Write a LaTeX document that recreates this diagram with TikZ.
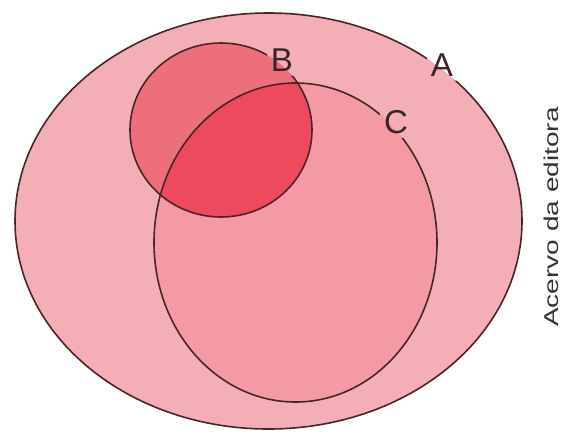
\documentclass[tikz,border=0pt]{standalone}
\usepackage{fontspec}
\setmainfont{Liberation Sans}
\usepackage{graphicx}
\definecolor{colA}{HTML}{F4AEB5}
\definecolor{colC}{HTML}{F49AA4}
\definecolor{colB}{HTML}{EE6F7C}
\definecolor{colBC}{HTML}{EE4A5E}
\definecolor{edgecol}{HTML}{4A2528}
\definecolor{labelcol}{HTML}{3A2628}
\definecolor{creditcol}{HTML}{333333}
\begin{document}
\begin{tikzpicture}[x=1pt,y=-1pt,
  outline/.style={draw=edgecol, line width=1.6pt},
  lbl/.style={font=\fontsize{33}{33}\selectfont, text=labelcol, inner sep=4pt},
]
\useasboundingbox (0,0) rectangle (565,440);
\fill[white] (0,0) rectangle (565,440);
% fills
\fill[colA] (268.5,221) ellipse [x radius=253.5, y radius=208];
\fill[colC] (295.5,242.5) ellipse [x radius=141.5, y radius=159.5];
\fill[colB] (221,130) ellipse [x radius=91, y radius=87];
\begin{scope}
  \clip (221,130) ellipse [x radius=91, y radius=87];
  \fill[colBC] (295.5,242.5) ellipse [x radius=141.5, y radius=159.5];
\end{scope}
% labels
\node[lbl] (labB) at (282,60) {B};
\node[lbl] (labA) at (442,65) {A};
\node[lbl] (labC) at (396,122) {C};
% outlines with gaps at the labels
\begin{scope}[even odd rule]
  \clip (-10,-10) rectangle (575,450)
    (labB.south west) rectangle (labB.north east)
    (labA.south west) rectangle (labA.north east)
    (labC.south west) rectangle (labC.north east);
  \draw[outline] (268.5,221) ellipse [x radius=253.5, y radius=208];
  \draw[outline] (295.5,242.5) ellipse [x radius=141.5, y radius=159.5];
  \draw[outline] (221,130) ellipse [x radius=91, y radius=87];
\end{scope}
% credit
\node[font=\fontsize{20}{20}\selectfont, text=creditcol, rotate=90, inner sep=0pt] (credit) at (551,217) {\scalebox{1.4}[1]{Acervo da editora}};
\end{tikzpicture}
\end{document}
